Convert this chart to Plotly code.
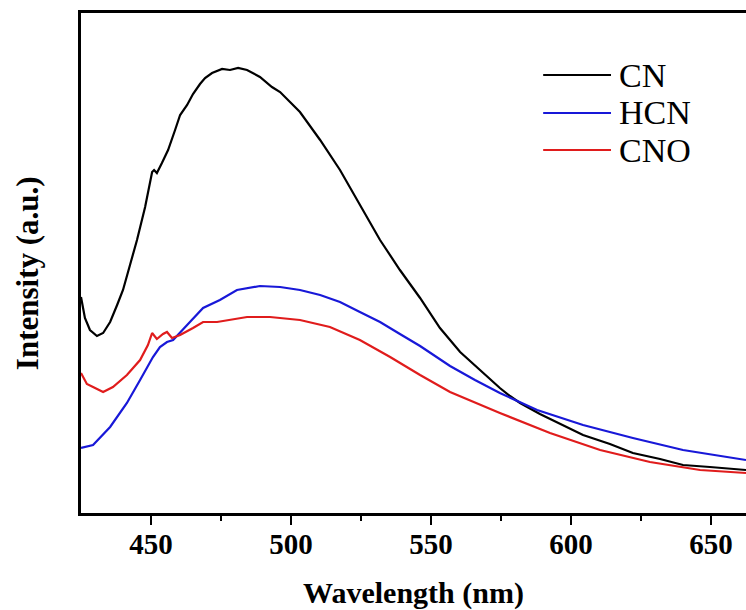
import plotly.graph_objects as go

# ---- data (wavelength in nm, intensity in arbitrary units) ----
cn_wl = [425.0, 426.4, 428.2, 430.7, 432.9, 435.4, 437.9, 440.0, 442.5, 445.0,
         447.9, 449.6, 450.4, 451.1, 452.1, 453.9, 456.1, 458.6, 460.4, 462.9,
         465.0, 467.5, 469.3, 471.8, 475.4, 478.2, 481.1, 484.3, 488.9, 493.2,
         496.1, 503.2, 510.4, 517.5, 524.6, 531.8, 538.9, 546.1, 553.2, 560.4,
         567.5, 574.6, 578.2, 581.8, 588.9, 596.1, 604.3, 613.9, 622.1, 631.8,
         640.0, 649.6, 662.5]
cn_int = [432, 390, 366, 354, 360, 382, 416, 446, 496, 546,
          612, 662, 682, 686, 680, 700, 726, 766, 796, 816,
          838, 858, 870, 880, 888, 886, 890, 886, 872, 852,
          842, 802, 746, 686, 616, 546, 486, 430, 370, 322,
          286, 250, 234, 220, 198, 178, 156, 138, 120, 108,
          96, 92, 86]

hcn_wl = [425.0, 429.3, 435.4, 441.4, 446.1, 450.7, 453.2, 455.7, 457.9, 460.4,
          462.9, 468.6, 474.6, 480.7, 488.9, 496.1, 503.2, 510.4, 517.5, 524.6,
          531.8, 538.9, 546.1, 556.8, 565.7, 574.6, 587.9, 604.3, 622.1, 640.0,
          662.5]
hcn_int = [130, 136, 172, 220, 266, 312, 332, 342, 346, 360,
           376, 410, 426, 446, 454, 452, 446, 436, 422, 402,
           382, 358, 334, 294, 266, 240, 206, 176, 150, 126,
           106]

cno_wl = [425.0, 427.1, 429.3, 432.9, 436.4, 441.4, 446.1, 448.9, 450.4, 452.1,
          454.3, 455.7, 457.5, 460.4, 465.0, 468.6, 473.6, 479.3, 484.3, 492.5,
          503.2, 513.9, 524.6, 535.4, 546.1, 556.8, 574.6, 592.5, 610.4, 628.2,
          646.1, 662.5]
cno_int = [280, 258, 252, 242, 252, 276, 306, 336, 360, 348,
           358, 362, 350, 356, 370, 382, 382, 388, 392, 392,
           386, 372, 346, 312, 276, 242, 200, 160, 126, 102,
           86, 80]

series_names = ["CN", "HCN", "CNO"]
series_colors = ["#000000", "#1818d8", "#e01c1c"]
x_ticks = [450, 500, 550, 600, 650]

FONT = "Liberation Serif"

fig = go.Figure()
for name, wl, inten, col in zip(series_names, [cn_wl, hcn_wl, cno_wl],
                                [cn_int, hcn_int, cno_int], series_colors):
    fig.add_trace(go.Scatter(x=wl, y=inten, mode="lines", name=name,
                             line=dict(color=col, width=2.2), showlegend=False))

# manual legend (long line samples like the original)
leg_y = [0.876, 0.800, 0.726]
for name, col, yy in zip(series_names, series_colors, leg_y):
    fig.add_shape(type="line", xref="paper", yref="paper",
                  x0=0.695, x1=0.797, y0=yy, y1=yy,
                  line=dict(color=col, width=2.2))
    fig.add_annotation(xref="paper", yref="paper", x=0.806, y=yy,
                       text=name, showarrow=False, xanchor="left",
                       yanchor="middle",
                       font=dict(family=FONT, size=34, color="black"))

fig.add_annotation(xref="paper", yref="paper", x=-0.081, y=0.48,
                   text="<b>Intensity (a.u.)</b>", textangle=-90,
                   showarrow=False, xanchor="center", yanchor="middle",
                   font=dict(family=FONT, size=31, color="black"))

fig.update_layout(
    width=746, height=610,
    margin=dict(l=81, r=0, t=13, b=97),
    paper_bgcolor="white", plot_bgcolor="white",
    showlegend=False,
    xaxis=dict(range=[425, 662.5], tickvals=x_ticks,
               ticktext=[f"<b>{v}</b>" for v in x_ticks],
               ticks="outside", ticklen=9, tickwidth=2, tickcolor="black",
               ticklabelstandoff=-6,
               minor=dict(tickvals=[475, 525, 575, 625], ticks="outside",
                          ticklen=5, tickwidth=2, tickcolor="black"),
               showline=True, linecolor="black", linewidth=2.5, mirror=True,
               showgrid=False, zeroline=False,
               tickfont=dict(family=FONT, size=29, color="black"),
               title=dict(text="<b>Wavelength (nm)</b>", standoff=26,
                          font=dict(family=FONT, size=30, color="black"))),
    yaxis=dict(range=[0, 1000], showticklabels=False, ticks="",
               showline=True, linecolor="black", linewidth=2.5, mirror=False,
               showgrid=False, zeroline=False),
)

fig.write_html("out.html")
